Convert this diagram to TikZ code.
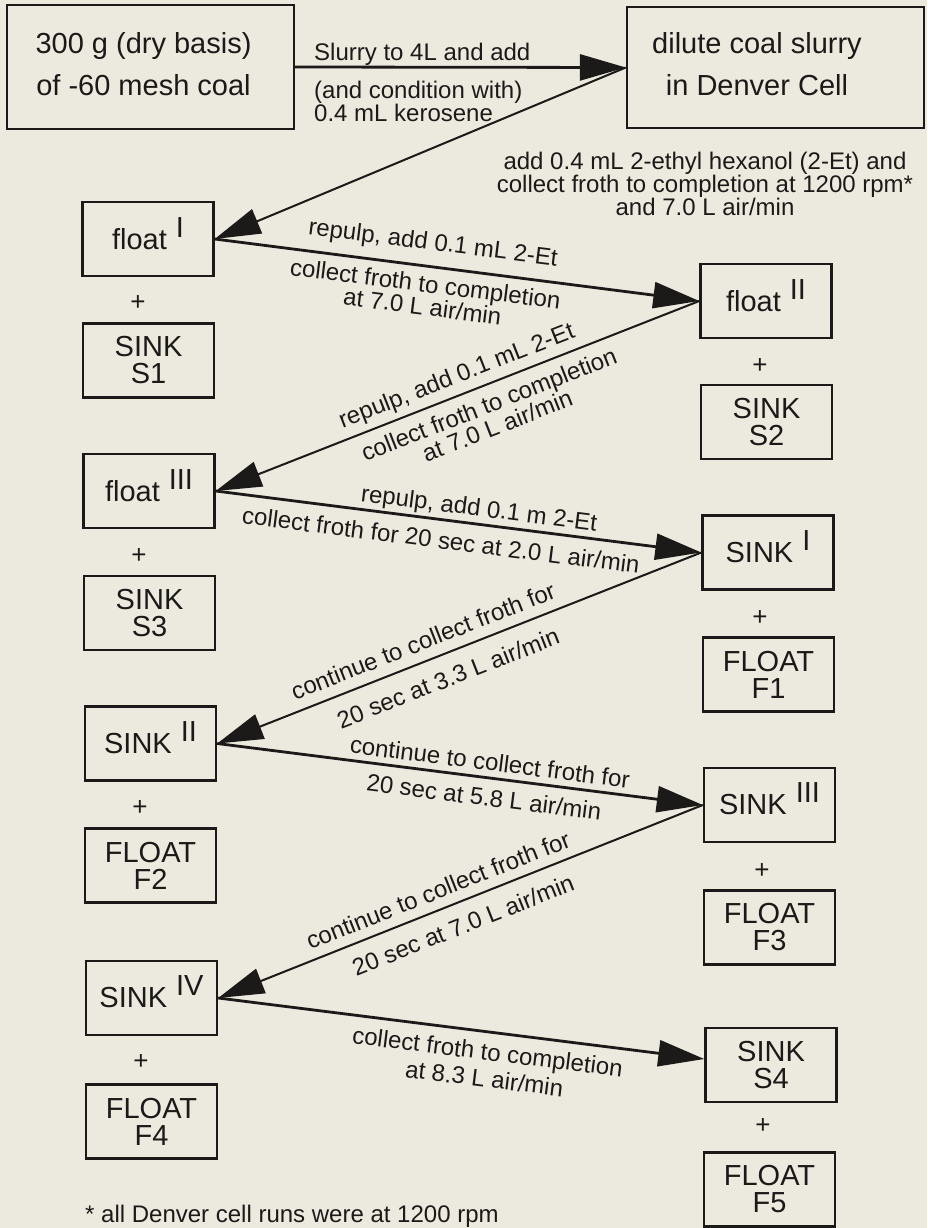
\documentclass[tikz,border=0pt]{standalone}
\usepackage{fontspec}
\setmainfont{Liberation Sans}
\usetikzlibrary{arrows.meta}
\definecolor{bg}{RGB}{236,234,222}
\definecolor{ink}{RGB}{28,26,24}
\newcommand{\romsup}[1]{\hspace{9pt}\raisebox{12pt}[0pt][0pt]{#1}}
\begin{document}
\begin{tikzpicture}[x=1pt,y=-1pt,
  box/.style={draw=ink, line width=2.4pt, rectangle, inner sep=0pt, minimum width=131pt, minimum height=74pt, text=ink, font=\fontsize{29}{27}\selectfont, align=center},
  bigbox/.style={draw=ink, line width=2.4pt, rectangle, inner sep=0pt},
  bigtxt/.style={text=ink, font=\fontsize{29}{42}\selectfont, align=center, inner sep=0pt},
  lbl/.style={text=ink, font=\fontsize{24}{23}\selectfont, align=center, inner sep=0pt},
  plus/.style={text=ink, font=\fontsize{26}{26}\selectfont, inner sep=0pt},
  fwd/.style={draw=ink, line width=2.8pt, -{Triangle[length=46pt,width=26pt]}},
  back/.style={draw=ink, line width=2pt, -{Triangle[length=46pt,width=26pt]}}]
\useasboundingbox (0,0) rectangle (927,1228);
\fill[bg] (0,0) rectangle (927,1228);

% top boxes
\node[bigbox, minimum width=287pt, minimum height=124pt] (A) at (150.5,67) {};
\node[bigtxt] (At) at (143.5,64) {300 g (dry basis)\\of -60 mesh coal};
\node[bigbox, minimum width=297pt, minimum height=121pt] (B) at (775.5,67.5) {};
\node[bigtxt] (Bt) at (757,64) {dilute coal slurry\\in Denver Cell};

% left column
\node[box] (fI)   at (148,239)    {float\romsup{I}};
\node[plus] (p1)  at (138,303)    {+};
\node[box] (S1)   at (148.5,360.5) {SINK\\S1};
\node[box] (fIII) at (149,491)    {float\romsup{III}};
\node[plus] (p3)  at (139,556)    {+};
\node[box] (S3)   at (149.5,613)  {SINK\\S3};
\node[box] (SII)  at (150.5,743.5) {SINK\romsup{II}};
\node[plus] (p5)  at (140,808)    {+};
\node[box] (F2)   at (150.5,865.5) {FLOAT\\F2};
\node[box] (SIV)  at (151.5,998)  {SINK\romsup{IV}};
\node[plus] (p7)  at (141,1062)   {+};
\node[box] (F4)   at (151.5,1121.5) {FLOAT\\F4};

% right column
\node[box] (fII)  at (766,301)    {float\romsup{II}};
\node[plus] (p2)  at (760,366)    {+};
\node[box] (S2)   at (766.5,422)  {SINK\\S2};
\node[box] (SI)   at (768,552.5)  {SINK\romsup{I}};
\node[plus] (p4)  at (760,618)    {+};
\node[box] (F1)   at (768.5,674.5) {FLOAT\\F1};
\node[box] (SIII) at (769.5,805)  {SINK\romsup{III}};
\node[plus] (p6)  at (762,871)    {+};
\node[box] (F3)   at (769.5,927.5) {FLOAT\\F3};
\node[box] (S4)   at (771,1065)   {SINK\\S4};
\node[plus] (p8)  at (763,1126)   {+};
\node[box] (F5)   at (769.5,1189.5) {FLOAT\\F5};

% connectors
\draw[fwd]  (A.east) -- (B.west);
\draw[back] (B.west) -- (fI.east);
\draw[fwd]  (fI.east) -- (fII.west);
\draw[back] (fII.west) -- (fIII.east);
\draw[fwd]  (fIII.east) -- (SI.west);
\draw[back] (SI.west) -- (SII.east);
\draw[fwd]  (SII.east) -- (SIII.west);
\draw[back] (SIII.west) -- (SIV.east);
\draw[fwd]  (SIV.east) -- ([yshift=6pt]S4.west);

% labels
\node[lbl, anchor=base west] (l1) at (314,61) {Slurry to 4L and add};
\node[lbl, anchor=north west, align=left, font=\fontsize{24}{20}\selectfont] (l2) at (314,81) {(and condition with)\\0.4 mL kerosene};
\node[lbl, font=\fontsize{24}{22}\selectfont] (l3) at (705,184) {add 0.4 mL 2-ethyl hexanol (2-Et) and\\collect froth to completion at 1200 rpm*\\and 7.0 L air/min};
\node[lbl, rotate=-7.2] (l4) at (433,244) {repulp, add 0.1 mL 2-Et};
\node[lbl, rotate=-7.2] (l5) at (424,295) {collect froth to completion\\at 7.0 L air/min};
\node[lbl, rotate=21.4] (l6) at (457,377) {repulp, add 0.1 mL 2-Et};
\node[lbl, rotate=21.4] (l7) at (493,415) {collect froth to completion\\at 7.0 L air/min};
\node[lbl, rotate=-7.2] (l8) at (479,510) {repulp, add 0.1 m 2-Et};
\node[lbl, rotate=-7.2] (l9) at (441,540) {collect froth for 20 sec at 2.0 L air/min};
\node[lbl, rotate=21.4] (l10) at (423,641) {continue to collect froth for};
\node[lbl, rotate=21.4] (l11) at (448,678) {20 sec at 3.3 L air/min};
\node[lbl, rotate=-7.2] (l12) at (490,762) {continue to collect froth for};
\node[lbl, rotate=-7.2] (l13) at (484,797) {20 sec at 5.8 L air/min};
\node[lbl, rotate=21.6] (l14) at (438,890) {continue to collect froth for};
\node[lbl, rotate=21.6] (l15) at (463,925) {20 sec at 7.0 L air/min};
\node[lbl, rotate=-7.1, font=\fontsize{24}{27}\selectfont] (l16) at (486,1065) {collect froth to completion\\at 8.3 L air/min};
\node[lbl, anchor=base west] (fn) at (85,1222) {* all Denver cell runs were at 1200 rpm};
\end{tikzpicture}
\end{document}
